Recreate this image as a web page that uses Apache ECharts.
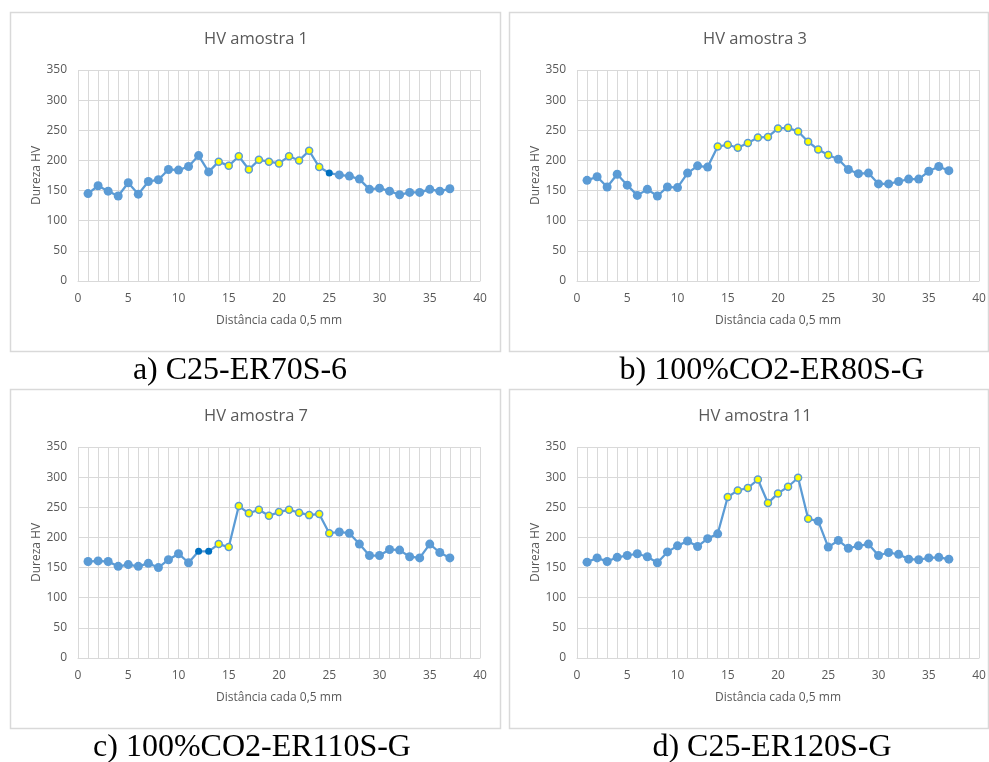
<!DOCTYPE html>
<html>
<head>
<meta charset="utf-8">
<script src="https://cdn.jsdelivr.net/npm/echarts@6/dist/echarts.min.js"></script>
<style>html,body{margin:0;padding:0;background:#fff;}#c{width:989px;height:762px;}</style>
</head>
<body>
<div id="c"></div>
<script>
// ---- data ----
const xValues = [1,2,3,4,5,6,7,8,9,10,11,12,13,14,15,16,17,18,19,20,21,22,23,24,25,26,27,28,29,30,31,32,33,34,35,36,37];
const hvA = [145,158,149,141,163,144,165,168,185,184,190,208,181,198,191,207,185,201,198,195,207,200,216,189,179,176,174,169,152,154,149,143,147,147,152,149,153];
const hvB = [167,173,156,177,159,142,152,141,156,155,179,191,189,223,226,221,229,238,239,253,254,248,231,218,209,202,185,178,179,161,161,165,169,169,182,190,183];
const hvC = [160,161,160,152,155,152,157,150,163,173,158,177,177,189,184,252,240,246,236,242,246,241,237,239,207,209,207,189,170,170,180,179,168,166,189,175,166];
const hvD = [159,166,160,167,170,173,168,158,176,186,194,185,198,206,267,278,282,296,257,273,284,299,231,227,184,195,182,186,189,170,175,172,164,163,166,167,164];
// highlighted points (x positions)
const yellowA = [14,15,16,17,18,19,20,21,22,23,24];
const darkA = [25];
const yellowB = [14,15,16,17,18,19,20,21,22,23,24,25];
const darkB = [];
const yellowC = [14,15,16,17,18,19,20,21,22,23,24,25];
const darkC = [12,13];
const yellowD = [15,16,17,18,19,20,21,22,23];
const darkD = [];
const chartTitles = ['HV amostra 1','HV amostra 3','HV amostra 7','HV amostra 11'];
const captions = ['a) C25-ER70S-6','b) 100%CO2-ER80S-G','c) 100%CO2-ER110S-G','d) C25-ER120S-G'];
const yTicks = [0,50,100,150,200,250,300,350];
const xTicks = [0,5,10,15,20,25,30,35,40];
const yName = 'Dureza HV';
const xName = 'Distância cada 0,5 mm';

// ---- layout ----
const grids = [
  {left:78, top:70, width:402, height:211},
  {left:577, top:70, width:402, height:211},
  {left:78, top:447, width:402, height:211},
  {left:577, top:447, width:402, height:211}
];
const boxes = [
  {x:10, y:12, w:490, h:339},
  {x:509, y:12, w:479, h:339},
  {x:10, y:389, w:490, h:339},
  {x:509, y:389, w:479, h:339}
];
const titlePos = [{x:256,y:39},{x:755,y:39},{x:256,y:416},{x:755,y:416}];
const capPos = [{x:240,y:371},{x:772,y:371},{x:252,y:748},{x:772,y:748}];

const BLUE = '#5B9BD5';
const GRIDC = '#D9D9D9';
const TXT = '#595959';

function buildData(vals, yellow, dark){
  return xValues.map((x,i)=>{
    const item = {value:[x, vals[i]]};
    if (yellow.indexOf(x) >= 0){
      item.symbolSize = 7;
      item.itemStyle = {color:'#FFFF00', borderColor:BLUE, borderWidth:1.5};
    } else if (dark.indexOf(x) >= 0){
      item.symbolSize = 7;
      item.itemStyle = {color:'#0070C0', borderColor:'#0070C0', borderWidth:0};
    }
    return item;
  });
}
const sets = [[hvA,yellowA,darkA],[hvB,yellowB,darkB],[hvC,yellowC,darkC],[hvD,yellowD,darkD]];

const option = {
  animation:false,
  backgroundColor:'#fff',
  graphic: boxes.map(b=>({type:'rect', shape:{x:b.x+0.5,y:b.y+0.5,width:b.w,height:b.h}, style:{fill:'none', stroke:GRIDC, lineWidth:1.5}, z:-1})).concat(
    titlePos.map((p,i)=>({type:'text', x:p.x, y:p.y, style:{text:chartTitles[i], fontFamily:'Open Sans', fontSize:16.5, fill:TXT, align:'center', verticalAlign:'middle'}})),
    capPos.map((p,i)=>({type:'text', x:p.x, y:p.y, style:{text:captions[i], fontFamily:'Liberation Serif', fontSize:32, fill:'#000', align:'center', verticalAlign:'middle'}}))
  ),
  grid: grids.map(g=>Object.assign({containLabel:false}, g)),
  xAxis: grids.map((g,i)=>({
    type:'value', gridIndex:i, min:xTicks[0], max:xTicks[xTicks.length-1], interval:xTicks[1]-xTicks[0],
    name:xName, nameLocation:'middle', nameGap:34,
    nameTextStyle:{fontFamily:'Open Sans', fontSize:12, color:TXT},
    axisLine:{show:true, lineStyle:{color:GRIDC, width:1}},
    axisTick:{show:false},
    axisLabel:{fontFamily:'Open Sans', fontSize:12, color:TXT, margin:12},
    splitLine:{show:true, lineStyle:{color:GRIDC, width:1}},
    minorTick:{show:false, splitNumber:5},
    minorSplitLine:{show:true, lineStyle:{color:GRIDC, width:1}}
  })),
  yAxis: grids.map((g,i)=>({
    type:'value', gridIndex:i, min:yTicks[0], max:yTicks[yTicks.length-1], interval:yTicks[1]-yTicks[0],
    name:yName, nameLocation:'middle', nameGap:35,
    nameTextStyle:{fontFamily:'Open Sans', fontSize:12, color:TXT},
    axisLine:{show:false},
    axisTick:{show:false},
    axisLabel:{fontFamily:'Open Sans', fontSize:12, color:TXT, margin:11},
    splitLine:{show:true, lineStyle:{color:GRIDC, width:1}}
  })),
  series: sets.map((s,i)=>({
    type:'line', xAxisIndex:i, yAxisIndex:i,
    data: buildData(s[0], s[1], s[2]),
    symbol:'circle', symbolSize:9,
    lineStyle:{color:BLUE, width:2.25},
    itemStyle:{color:BLUE, borderColor:BLUE, borderWidth:0},
    emphasis:{disabled:true}
  }))
};
const chart = echarts.init(document.getElementById('c'), null, {renderer:'canvas'});
chart.setOption(option);
</script>
</body>
</html>
